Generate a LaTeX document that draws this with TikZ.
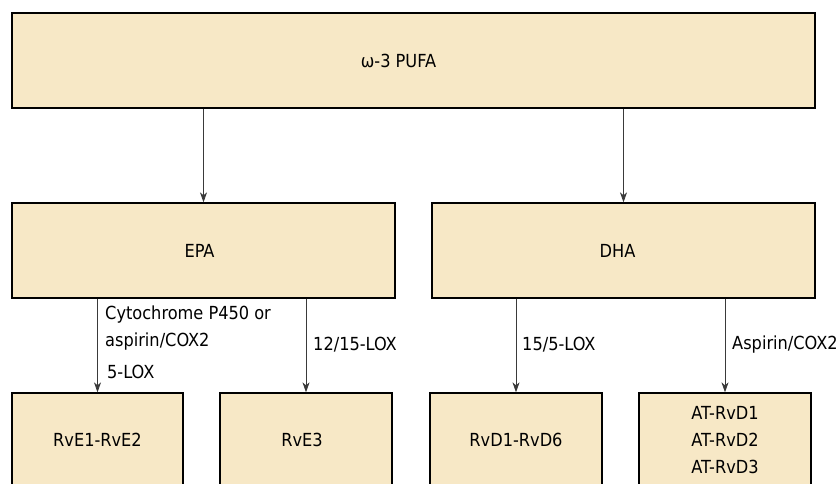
\documentclass[tikz,border=0pt]{standalone}
\usepackage{fontspec}
\setmainfont{DejaVu Sans Condensed}
\usetikzlibrary{arrows.meta}
\definecolor{boxfill}{HTML}{F7E8C6}
\definecolor{arrowgray}{HTML}{3A3A3A}
\tikzset{
  box/.style={draw=black, line width=1.3pt, fill=boxfill, rectangle, inner sep=0pt, align=center},
  boxfont/.style={font=\fontsize{18}{27}\selectfont},
  lbl/.style={font=\fontsize{18}{21}\selectfont, anchor=west, inner sep=0pt},
  conn/.style={draw=arrowgray, line width=0.9pt, -{Stealth[length=10pt,width=7pt,inset=3pt]}}
}
\begin{document}
\begin{tikzpicture}[x=1pt,y=-1pt]
\clip (0,0) rectangle (840,484);
\fill[white] (0,0) rectangle (840,484);
% top level
\node[box, boxfont, minimum width=803pt, minimum height=95pt] (pufa) at (413.5,60.5) {ω-3 PUFA\hspace*{30pt}};
\node[box, boxfont, minimum width=383pt, minimum height=95pt] (epa) at (203.5,250.5) {EPA\hspace*{8pt}};
\node[box, boxfont, minimum width=383pt, minimum height=95pt] (dha) at (623.5,250.5) {DHA\hspace*{12pt}};
% bottom
\node[box, boxfont, minimum width=171pt, minimum height=94pt] (rve1) at (97.5,440) {RvE1-RvE2};
\node[box, boxfont, minimum width=172pt, minimum height=94pt] (rve3) at (306,440) {RvE3\hspace*{8pt}};
\node[box, boxfont, minimum width=172pt, minimum height=94pt] (rvd1) at (516,440) {RvD1-RvD6};
\node[box, boxfont, minimum width=172pt, minimum height=94pt] (atrvd) at (725,440) {AT-RvD1\\AT-RvD2\\AT-RvD3};
% connectors
\draw[conn] (pufa.south -| epa.north) -- (epa.north);
\draw[conn] (pufa.south -| dha.north) -- (dha.north);
\draw[conn] (epa.south -| rve1.north) -- (rve1.north);
\draw[conn] (epa.south -| rve3.north) -- (rve3.north);
\draw[conn] (dha.south -| rvd1.north) -- (rvd1.north);
\draw[conn] (dha.south -| atrvd.north) -- (atrvd.north);
% labels
\node[lbl] (l1) at (105,315) {Cytochrome P450 or};
\node[lbl] (l2) at (105,342) {aspirin/COX2};
\node[lbl] (l3) at (107,372) {5-LOX};
\node[lbl] (l4) at (313,345) {12/15-LOX};
\node[lbl] (l5) at (522,345) {15/5-LOX};
\node[lbl] (l6) at (732,345) {Aspirin/COX2};
\end{tikzpicture}
\end{document}
